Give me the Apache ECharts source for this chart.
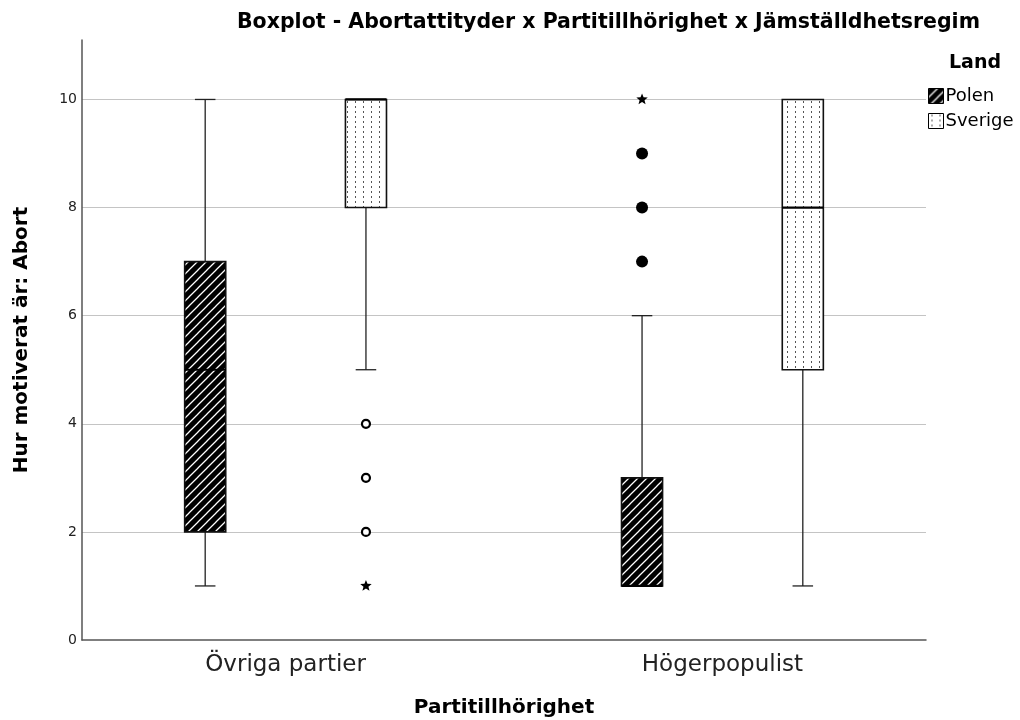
<!DOCTYPE html>
<html>
<head>
<meta charset="utf-8">
<title>Boxplot</title>
<script src="https://cdn.jsdelivr.net/npm/echarts@6/dist/echarts.min.js"></script>
<style>
  html, body { margin: 0; padding: 0; background: #fff; }
  #chart-container { width: 1020px; height: 720px; }
</style>
</head>
<body>
<div id="chart-container"></div>
<script>
// kategorier och länder
var categories = ['Övriga partier', 'Högerpopulist'];
var lands = ['Polen', 'Sverige'];

// [min, Q1, median, Q3, max] per kategori
var polenBox = [[1, 2, 5, 7, 10], [1, 1, 1, 3, 6]];
var sverigeBox = [[5, 8, 10, 10, 10], [1, 5, 8, 10, 10]];

// avvikande värden (cirklar) och extremvärden (stjärnor) per kategori
var polenOutliers = [[], [7, 8, 9]];
var polenExtremes = [[], [10]];
var sverigeOutliers = [[4, 3, 2], []];
var sverigeExtremes = [[1], []];

var FONT = 'DejaVu Sans';

// mönster: diagonala ränder för Polen, prickar för Sverige
function makeStripes() {
    var s = 9;
    var c = document.createElement('canvas');
    c.width = s; c.height = s;
    var g = c.getContext('2d');
    g.fillStyle = '#000';
    g.fillRect(0, 0, s, s);
    g.strokeStyle = '#fff';
    g.lineWidth = 1.25;
    g.beginPath();
    g.moveTo(-2, s + 2); g.lineTo(s + 2, -2);
    g.moveTo(-2, 2); g.lineTo(2, -2);
    g.moveTo(s - 2, s + 2); g.lineTo(s + 2, s - 2);
    g.stroke();
    return { image: c, repeat: 'repeat' };
}

function makeDots() {
    var c = document.createElement('canvas');
    c.width = 8; c.height = 5;
    var g = c.getContext('2d');
    g.fillStyle = '#fff';
    g.fillRect(0, 0, 8, 5);
    g.fillStyle = '#555';
    g.fillRect(3, 1, 1, 2);
    return { image: c, repeat: 'repeat' };
}

var patterns = [makeStripes(), makeDots()];
var outliers = [polenOutliers, sverigeOutliers];
var extremes = [polenExtremes, sverigeExtremes];
var outlierFilled = [true, false];

var groupOffset = [-0.184, 0.184];
var boxWidth = 0.094;

function starPoints(cx, cy, ro, ri) {
    var pts = [];
    for (var i = 0; i < 10; i++) {
        var r = i % 2 === 0 ? ro : ri;
        var a = -Math.PI / 2 + i * Math.PI / 5;
        pts.push([cx + r * Math.cos(a), cy + r * Math.sin(a)]);
    }
    return pts;
}

function renderBox(params, api) {
    var li = params.seriesIndex;
    var ci = api.value(0);
    var x = ci + groupOffset[li];
    var mn = api.value(1), q1 = api.value(2), md = api.value(3), q3 = api.value(4), mx = api.value(5);
    var cx = api.coord([x, 0])[0];
    var y = function (v) { return api.coord([x, v])[1]; };
    var half = api.size([boxWidth, 0])[0] / 2;
    var cap = half / 2;
    var lineStyle = { stroke: '#222', lineWidth: 1.3 };
    var children = [];

    if (mx > q3) {
        children.push({ type: 'line', shape: { x1: cx, y1: y(q3), x2: cx, y2: y(mx) }, style: lineStyle });
        children.push({ type: 'line', shape: { x1: cx - cap, y1: y(mx), x2: cx + cap, y2: y(mx) }, style: lineStyle });
    }
    if (mn < q1) {
        children.push({ type: 'line', shape: { x1: cx, y1: y(q1), x2: cx, y2: y(mn) }, style: lineStyle });
        children.push({ type: 'line', shape: { x1: cx - cap, y1: y(mn), x2: cx + cap, y2: y(mn) }, style: lineStyle });
    }
    children.push({
        type: 'rect',
        shape: { x: cx - half, y: y(q3), width: half * 2, height: y(q1) - y(q3) },
        style: { fill: patterns[li], stroke: '#111', lineWidth: 1.6 }
    });
    children.push({
        type: 'line',
        shape: { x1: cx - half, y1: y(md), x2: cx + half, y2: y(md) },
        style: { stroke: '#000', lineWidth: 2.2 }
    });

    outliers[li][ci].forEach(function (v) {
        var p = api.coord([x, v]);
        if (outlierFilled[li]) {
            children.push({ type: 'circle', shape: { cx: p[0], cy: p[1], r: 6 }, style: { fill: '#000' } });
        } else {
            children.push({ type: 'circle', shape: { cx: p[0], cy: p[1], r: 4 }, style: { fill: '#fff', stroke: '#000', lineWidth: 2.2 } });
        }
    });
    extremes[li][ci].forEach(function (v) {
        var p = api.coord([x, v]);
        children.push({ type: 'polygon', shape: { points: starPoints(p[0], p[1], 6, 2.6) }, style: { fill: '#000' } });
    });

    return { type: 'group', children: children };
}

var myChart = echarts.init(document.getElementById('chart-container'));

var option = {
    animation: false,
    textStyle: { fontFamily: FONT },
    title: [{
        text: 'Boxplot - Abortattityder x Partitillhörighet x Jämställdhetsregim',
        right: 35,
        top: 7,
        textStyle: { fontSize: 20.5, fontWeight: 'bold', color: '#000', fontFamily: FONT }
    }, {
        text: 'Land',
        left: 944,
        top: 49,
        textStyle: { fontSize: 19, fontWeight: 'bold', color: '#000', fontFamily: FONT }
    }],
    legend: {
        data: [
            { name: 'Polen', itemStyle: { color: patterns[0], borderColor: '#000', borderWidth: 1 } },
            { name: 'Sverige', itemStyle: { color: patterns[1], borderColor: '#000', borderWidth: 1 } }
        ],
        orient: 'vertical',
        left: 928,
        top: 87,
        padding: 0,
        icon: 'rect',
        itemWidth: 15,
        itemHeight: 15,
        itemGap: 7,
        selectedMode: false,
        textStyle: { fontSize: 18, color: '#000', fontFamily: FONT, padding: [0, 0, 0, -3] }
    },
    grid: { left: 82, right: 94, top: 40, bottom: 80, containLabel: false, outerBoundsMode: 'none' },
    xAxis: {
        type: 'value',
        min: -0.466,
        max: 1.466,
        name: 'Partitillhörighet',
        nameLocation: 'middle',
        nameGap: 58,
        nameTextStyle: { fontSize: 20, fontWeight: 'bold', color: '#000' },
        axisLine: { show: true, onZero: false, lineStyle: { color: '#555', width: 1.5 } },
        axisTick: { show: false },
        splitLine: { show: false },
        axisLabel: {
            customValues: [0, 1],
            formatter: function (v) { return categories[Math.round(v)]; },
            fontSize: 23,
            color: '#222',
            margin: 14
        }
    },
    yAxis: {
        type: 'value',
        min: 0,
        max: 11.1,
        interval: 2,
        name: 'Hur motiverat är: Abort',
        nameLocation: 'middle',
        nameGap: 50,
        nameTextStyle: { fontSize: 20, fontWeight: 'bold', color: '#000' },
        axisLine: { show: true, onZero: false, lineStyle: { color: '#555', width: 1.5 } },
        axisTick: { show: false },
        axisLabel: { showMaxLabel: false, fontSize: 14, color: '#222', margin: 5 },
        splitLine: { show: true, showMaxLine: false, showMinLine: false, lineStyle: { color: '#c4c4c4', width: 1 } }
    },
    series: lands.map(function (land, li) {
        var boxes = li === 0 ? polenBox : sverigeBox;
        return {
            name: land,
            type: 'custom',
            renderItem: renderBox,
            itemStyle: { color: patterns[li] },
            encode: { x: 0, y: [1, 2, 3, 4, 5] },
            data: boxes.map(function (b, i) { return [i].concat(b); })
        };
    })
};

myChart.setOption(option);
</script>
</body>
</html>
